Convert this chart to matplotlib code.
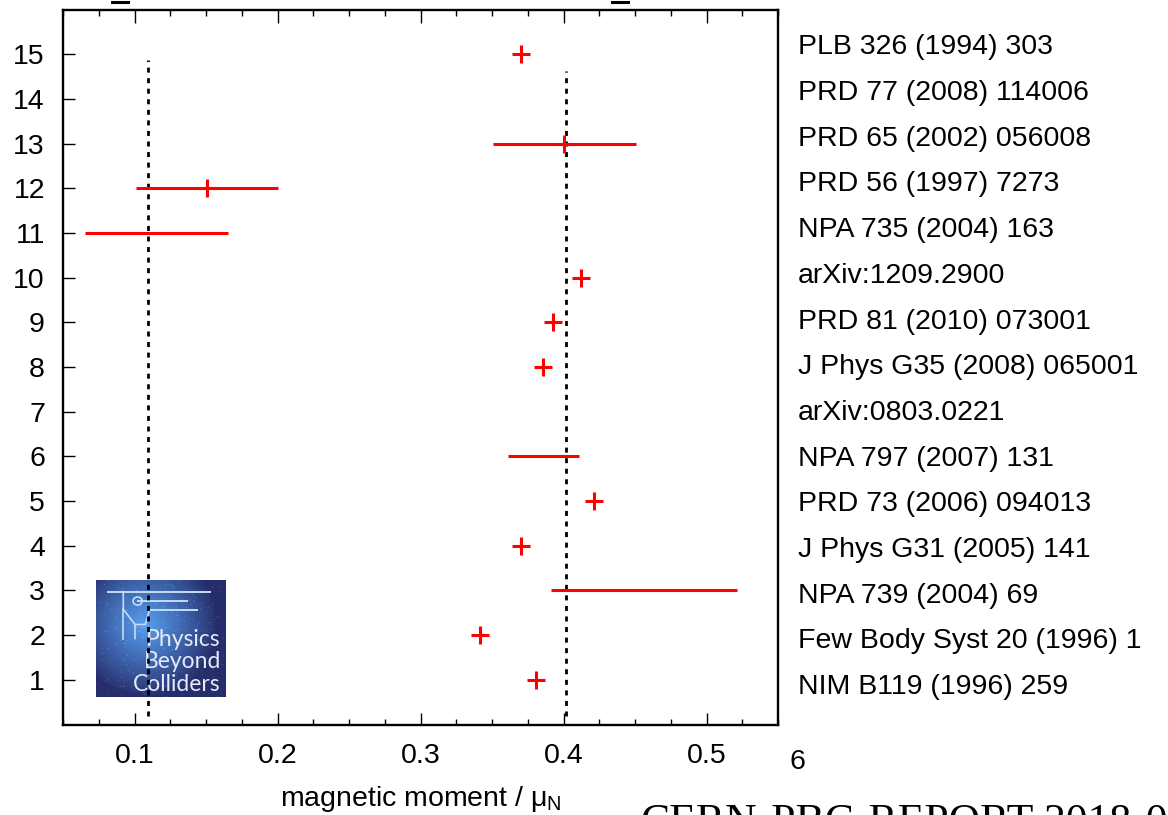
import numpy as np
import matplotlib
matplotlib.use("Agg")
import matplotlib.pyplot as plt
from matplotlib.lines import Line2D
from matplotlib.ticker import MultipleLocator

plt.rcParams['font.family'] = ['Liberation Sans', 'DejaVu Sans']
plt.rcParams['mathtext.fontset'] = 'custom'
plt.rcParams['mathtext.rm'] = 'Liberation Sans'
plt.rcParams['mathtext.it'] = 'Liberation Sans'

# ---- data ----
rows = list(range(1, 16))
references = [
    "NIM B119 (1996) 259",
    "Few Body Syst 20 (1996) 1",
    "NPA 739 (2004) 69",
    "J Phys G31 (2005) 141",
    "PRD 73 (2006) 094013",
    "NPA 797 (2007) 131",
    "arXiv:0803.0221",
    "J Phys G35 (2008) 065001",
    "PRD 81 (2010) 073001",
    "arXiv:1209.2900",
    "NPA 735 (2004) 163",
    "PRD 56 (1997) 7273",
    "PRD 65 (2002) 056008",
    "PRD 77 (2008) 114006",
    "PLB 326 (1994) 303",
]
nan = np.nan
central = [0.381, 0.3415, nan, 0.3705, 0.421, nan, nan, 0.386, 0.393, 0.412,
           nan, 0.151, 0.400, nan, 0.370]
range_low = [nan, nan, 0.391, nan, nan, 0.361, nan, nan, nan, nan,
             0.0657, 0.1013, 0.351, nan, nan]
range_high = [nan, nan, 0.521, nan, nan, 0.411, nan, nan, nan, nan,
              0.1655, 0.2005, 0.451, nan, nan]
reference_lines = [0.1095, 0.4015]
xticks = [0.1, 0.2, 0.3, 0.4, 0.5]
yticks = rows

FS = 20.5
W, H = 1168, 815
fig = plt.figure(figsize=(W / 100, H / 100), dpi=100)
fig.patch.set_facecolor('white')

ax_l, ax_r, ax_b, ax_t = 63, 778, 724.5, 9.5
ax = fig.add_axes([ax_l / W, 1 - ax_b / H, (ax_r - ax_l) / W, (ax_b - ax_t) / H])
ax.patch.set_alpha(0)
ax.set_zorder(1)

# ---- logo (decoration) in an axes below the main axes ----
lx0, lx1, ly0, ly1 = 96, 226, 580, 697
lax = fig.add_axes([lx0 / W, 1 - ly1 / H, (lx1 - lx0) / W, (ly1 - ly0) / H])
lax.set_zorder(0)
yy, xx = np.mgrid[0:1:200j, 0:1:200j]
d = np.sqrt(((xx - 0.38) / 0.55) ** 2 + ((yy - 0.62) / 0.62) ** 2)
t = np.clip(1 - d, 0, 1) ** 0.9
dark = np.array([0.15, 0.18, 0.42])
bright = np.array([0.34, 0.62, 0.94])
img = dark[None, None, :] * (1 - t[..., None]) + bright[None, None, :] * t[..., None]
rng = np.random.default_rng(1)
stars = rng.random((200, 200)) > 0.995
img[stars] = np.clip(img[stars] + 0.4, 0, 1)
lax.imshow(img, extent=[0, 1, 0, 1], origin='lower', aspect='auto')
lc = '#c4dcf6'
lax.plot([0.09, 0.88], [0.90, 0.90], color=lc, lw=1.4)
lax.plot([0.32, 0.70], [0.82, 0.82], color=lc, lw=1.4)
lax.plot([0.41, 0.78], [0.74, 0.74], color=lc, lw=1.4)
lax.plot([0.21, 0.21, 0.30, 0.30], [0.90, 0.75, 0.62, 0.50], color=lc, lw=1.2)
lax.plot([0.21, 0.21], [0.75, 0.50], color=lc, lw=1.2)
lax.plot([0.30, 0.38, 0.41], [0.62, 0.62, 0.74], color=lc, lw=1.2)
lax.add_patch(plt.Circle((0.32, 0.82), 0.035, fill=False, color=lc, lw=1.2))
lax.text(0.96, 0.30, "Physics\nBeyond\nColliders", ha='right', va='center',
         color='#e4eaf6', fontsize=16.5, family=['Lato', 'DejaVu Sans'],
         linespacing=1.1)
lax.set_xlim(0, 1)
lax.set_ylim(0, 1)
lax.axis('off')

# ---- reference lines ----
line_tops = [14.87, 14.63]
for xv, top in zip(reference_lines, line_tops):
    ax.plot([xv, xv], [0.2, top], color='black', lw=2.0,
            linestyle=(0, (1.8, 2.0)), zorder=2)

# ---- error bars (ranges) ----
rows_a = np.array(rows, dtype=float)
lo = np.array(range_low)
hi = np.array(range_high)
m = ~np.isnan(lo)
ax.hlines(rows_a[m], lo[m], hi[m], color='#ff0000', lw=2.2, zorder=3)

# ---- central values ----
c = np.array(central)
mc = ~np.isnan(c)
ax.plot(c[mc], rows_a[mc], linestyle='none', marker='+', color='#ff0000',
        markersize=12.5, markeredgewidth=2.2, zorder=4)

ax.set_xlim(0.05, 0.55)
ax.set_ylim(0, 16)
ax.set_xticks(xticks)
ax.set_xticklabels([f"{v:g}" for v in xticks])
ax.xaxis.set_minor_locator(MultipleLocator(0.025))
ax.set_yticks(yticks)
ax.set_yticklabels([str(v) for v in yticks])

ax.tick_params(axis='x', which='major', direction='in', length=9, width=1.0,
               top=True, bottom=True, labelsize=FS, pad=13)
ax.tick_params(axis='x', which='minor', direction='in', length=4.5, width=1.0,
               top=True, bottom=True)
ax.tick_params(axis='y', which='major', direction='in', length=8.5, width=1.0,
               left=True, right=False, labelsize=FS, pad=13)
for s in ax.spines.values():
    s.set_linewidth(1.7)

ax.set_xlabel(r"magnetic moment / μ$_\mathrm{N}$", fontsize=FS, labelpad=11)

# ---- reference labels on the right (separate text column, own spacing) ----
lab_x = 798
lab_bottom_center, lab_step, cap_half = 684, 45.71, 10.2
for i, lab in enumerate(references):
    yb = lab_bottom_center - i * lab_step + cap_half
    fig.text(lab_x / W, 1 - yb / H, lab, ha='left', va='baseline', fontsize=FS)

# ---- page fragments ----
fig.text(797 / W, 1 - 762 / H, "6", ha='center', va='center', fontsize=FS)
fig.text(640 / W, 1 - 803 / H, "CERN-PBC-REPORT-2018-007", ha='left', va='top',
         fontsize=31.5, family=['Liberation Serif', 'DejaVu Serif'])
for xc in (120, 620):
    fig.add_artist(Line2D([(xc - 8) / W, (xc + 8) / W], [1 - 1.5 / H, 1 - 1.5 / H],
                          color='black', lw=2.2, transform=fig.transFigure))

fig.savefig("out.png", dpi=100, facecolor='white')
